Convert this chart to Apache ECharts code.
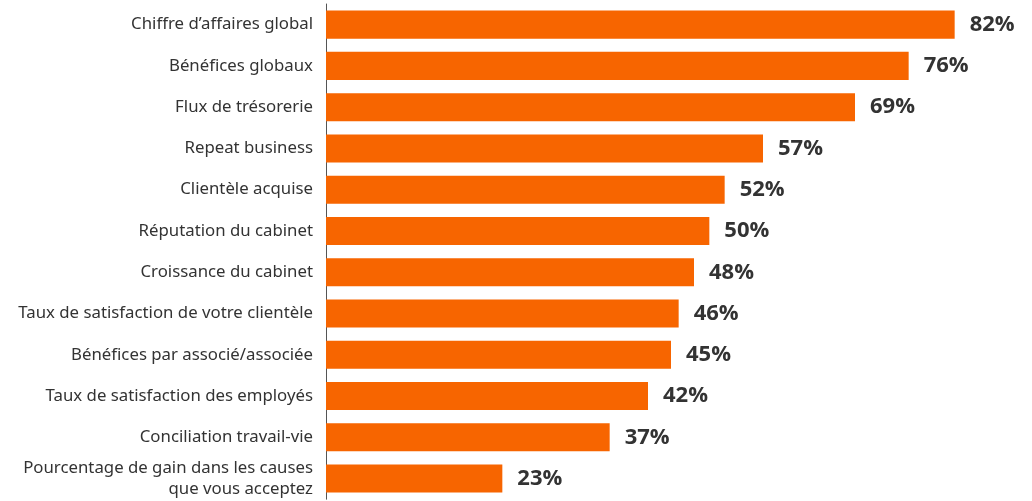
<!DOCTYPE html>
<html>
<head>
<meta charset="utf-8">
<script src="https://cdn.jsdelivr.net/npm/echarts@6/dist/echarts.min.js"></script>
<style>
  html, body { margin: 0; padding: 0; background: #fff; }
  #chart { width: 1032px; height: 501px; }
</style>
</head>
<body>
<div id="chart"></div>
<script>
// Survey categories, top to bottom
const categories = [
  "Chiffre d\u2019affaires global",
  "Bénéfices globaux",
  "Flux de trésorerie",
  "Repeat business",
  "Clientèle acquise",
  "Réputation du cabinet",
  "Croissance du cabinet",
  "Taux de satisfaction de votre clientèle",
  "Bénéfices par associé/associée",
  "Taux de satisfaction des employés",
  "Conciliation travail-vie",
  "Pourcentage de gain dans les causes\nque vous acceptez"
];

// Share of respondents (%)
const values = [82, 76, 69, 57, 52, 50, 48, 46, 45, 42, 37, 23];

const chart = echarts.init(document.getElementById('chart'));

chart.setOption({
  animation: false,
  grid: { left: 326, right: 16, top: 4, bottom: 0, containLabel: false },
  xAxis: {
    type: 'value',
    min: 0,
    max: 90,
    show: false
  },
  yAxis: {
    type: 'category',
    inverse: true,
    data: categories,
    axisLine: { show: true, lineStyle: { color: '#555', width: 1 } },
    axisTick: { show: false },
    axisLabel: {
      color: '#333',
      fontFamily: 'Noto Sans',
      fontSize: 16.8,
      lineHeight: 21,
      margin: 13,
      padding: [3, 0, 0, 0]
    }
  },
  series: [{
    type: 'bar',
    data: values,
    barCategoryGap: '32%',
    itemStyle: { color: '#f76500' },
    label: {
      show: true,
      position: 'right',
      distance: 15,
      formatter: '{c}%',
      color: '#333',
      fontFamily: 'Open Sans',
      fontWeight: 'bold',
      fontSize: 22,
      padding: [3, 0, 0, 0]
    }
  }]
});
</script>
</body>
</html>
